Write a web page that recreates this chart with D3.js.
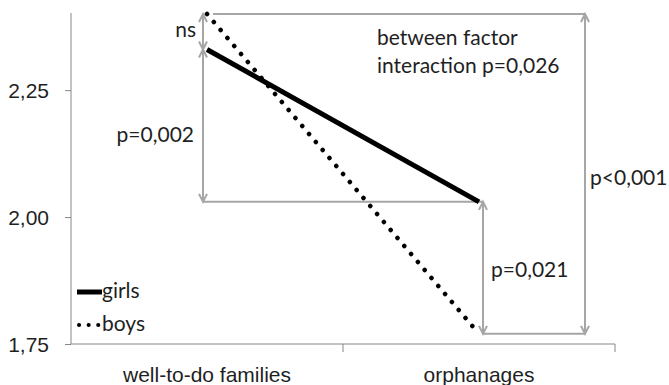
<!DOCTYPE html>
<html>
<head>
<meta charset="utf-8">
<script src="https://cdn.jsdelivr.net/npm/d3@7"></script>
<style>
  body { margin: 0; background: #fff; }
  svg { display: block; font-family: Lato, "Open Sans", sans-serif; }
  .lbl { font-size: 21px; fill: #1f1f1f; }
</style>
</head>
<body>
<svg id="chart" width="669" height="385"></svg>
<script>
// groups on the x axis
const groups = ["well-to-do families", "orphanages"];
// mean scores per series
const girls = [2.33, 2.03];
const boys = [2.40, 1.77];
const yTicks = [1.75, 2.00, 2.25];
const seriesNames = ["girls", "boys"];
// significance labels
const pNs = "ns";
const pGirls = "p=0,002";
const pOrph = "p=0,021";
const pBoys = "p<0,001";
const interaction = ["between factor", "interaction p=0,026"];

const svg = d3.select("#chart");
const plotLeft = 71, plotRight = 615, plotTop = 14, plotBottom = 344;
const gray = "#a6a6a6";

const x = d3.scaleBand().domain(groups).range([plotLeft, plotRight]);
const cx = (g) => x(g) + x.bandwidth() / 2;
const y = d3.scaleLinear().domain([1.75, 2.40]).range([plotBottom, plotTop]);
const fmt = (v) => d3.format(".2f")(v).replace(".", ",");

// y axis
const yAxis = svg.append("g").attr("transform", `translate(${plotLeft},0)`)
  .call(d3.axisLeft(y).tickValues(yTicks).tickSize(6).tickPadding(16).tickFormat(fmt));
yAxis.select(".domain").attr("d", `M0,${plotTop - 1}V${plotBottom}`).attr("stroke", "#868686");
yAxis.selectAll(".tick line").attr("stroke", "#868686");
yAxis.selectAll(".tick text").attr("class", "lbl").attr("font-family", null).attr("dy", "0.36em");

// x axis
const xAxis = svg.append("g").attr("transform", `translate(0,${plotBottom})`)
  .call(d3.axisBottom(x).tickSize(0).tickPadding(23));
xAxis.select(".domain").attr("d", `M${plotLeft},0H${plotRight}`).attr("stroke", "#868686");
xAxis.selectAll(".tick text").attr("class", "lbl").attr("font-family", null);
xAxis.selectAll(".sep").data(d3.range(groups.length + 1)).join("line")
  .attr("x1", (i) => plotLeft + i * x.bandwidth()).attr("x2", (i) => plotLeft + i * x.bandwidth())
  .attr("y1", 0).attr("y2", (i) => i === 0 ? 0 : 8).attr("stroke", "#868686");

// annotation helpers
function hLine(x1, x2, yy) {
  svg.append("line").attr("x1", x1).attr("x2", x2).attr("y1", yy).attr("y2", yy)
    .attr("stroke", gray).attr("stroke-width", 2);
}
function vArrow(xx, y1, y2) {
  svg.append("line").attr("x1", xx).attr("x2", xx).attr("y1", y1).attr("y2", y2)
    .attr("stroke", gray).attr("stroke-width", 2);
  svg.append("path").attr("d", `M${xx - 4},${y1 + 8}L${xx},${y1}L${xx + 4},${y1 + 8}M${xx - 4},${y2 - 8}L${xx},${y2}L${xx + 4},${y2 - 8}`)
    .attr("fill", "none").attr("stroke", gray).attr("stroke-width", 2);
}
function label(text, xx, yy, anchor) {
  svg.append("text").attr("class", "lbl").attr("x", xx).attr("y", yy)
    .attr("text-anchor", anchor || "start").text(text);
}

const xa = cx(groups[0]) - 4, xb = cx(groups[1]) + 4, xc = cx(groups[1]) + 106;
hLine(xa + 10, xc, y(boys[0]));
hLine(xa, xb, y(girls[1]));
hLine(xb, xc, y(boys[1]));
vArrow(xa, y(boys[0]), y(girls[0]));
vArrow(xa, y(girls[0]), y(girls[1]));
vArrow(xb, y(girls[1]), y(boys[1]));
vArrow(xc, y(boys[0]), y(boys[1]));

label(pNs, xa - 7, 37, "end");
label(pGirls, xa - 9, 142, "end");
label(pOrph, xb + 8, 277);
label(pBoys, xc + 5, 185);
label(interaction[0], 377, 45);
label(interaction[1], 377, 73);

// series lines
const line = d3.line().x((d, i) => cx(groups[i])).y((d) => y(d));
svg.append("path").datum(boys).attr("d", line).attr("fill", "none")
  .attr("stroke", "#000").attr("stroke-width", 4.5).attr("stroke-linecap", "round")
  .attr("stroke-dasharray", "0.1 10.4");
svg.append("path").datum(girls).attr("d", line).attr("fill", "none")
  .attr("stroke", "#000").attr("stroke-width", 5);

// legend
const legend = svg.append("g").attr("transform", "translate(77,292)");
seriesNames.forEach((name, i) => {
  const g = legend.append("g").attr("transform", `translate(0,${i * 33})`);
  g.append("line").attr("x1", i ? 2 : 0).attr("x2", i ? 22 : 25).attr("y1", 0).attr("y2", 0)
    .attr("stroke", "#000").attr("stroke-width", i ? 4 : 5)
    .attr("stroke-linecap", i ? "round" : "butt")
    .attr("stroke-dasharray", i ? "0.1 9.5" : null);
  g.append("text").attr("class", "lbl").attr("x", 25).attr("y", 6).text(name);
});
</script>
</body>
</html>
